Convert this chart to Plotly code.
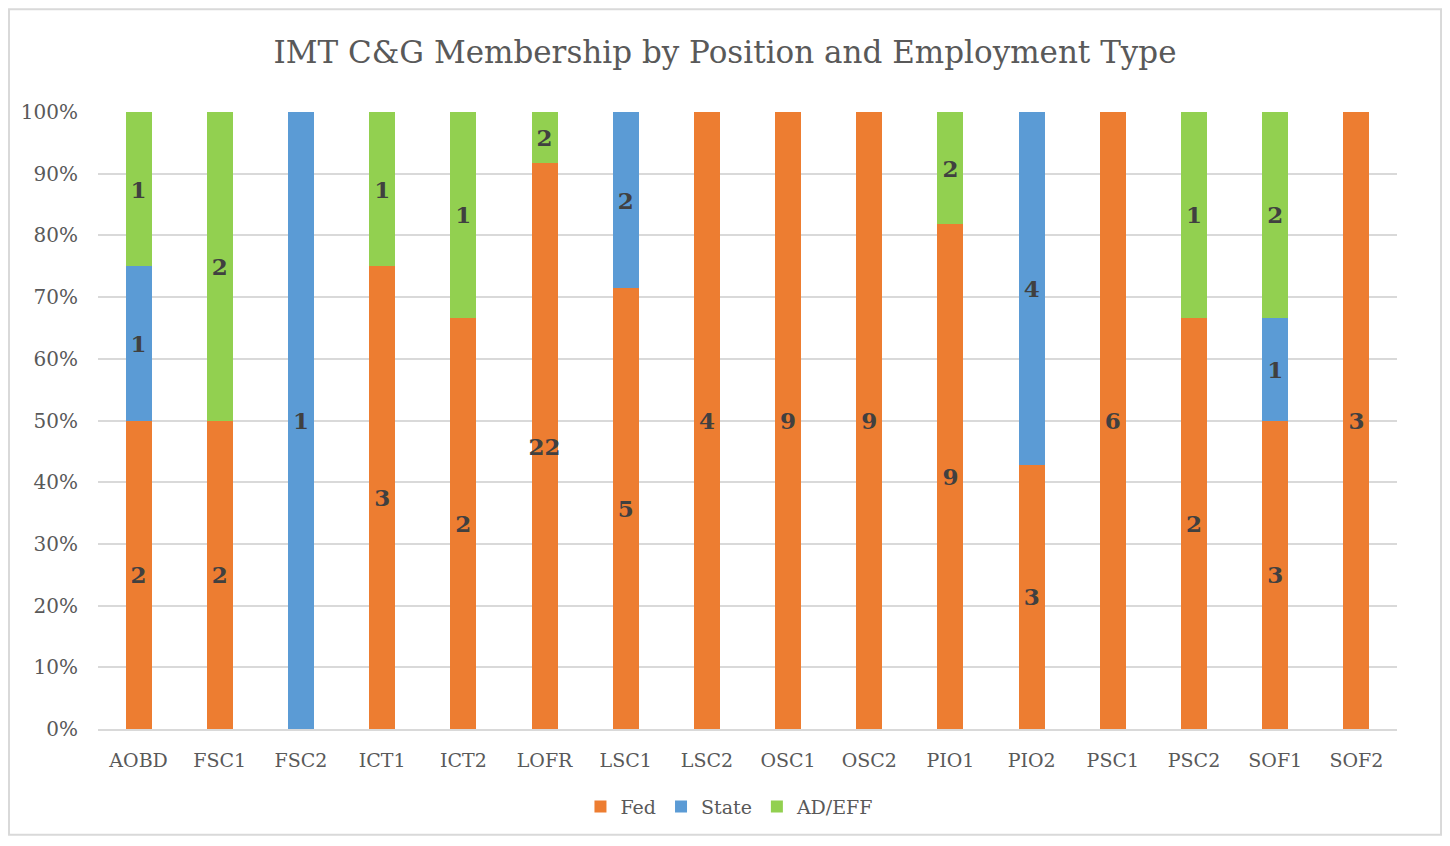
import plotly.graph_objects as go

categories = ["AOBD", "FSC1", "FSC2", "ICT1", "ICT2", "LOFR", "LSC1", "LSC2",
              "OSC1", "OSC2", "PIO1", "PIO2", "PSC1", "PSC2", "SOF1", "SOF2"]
fed =   [2, 2, 0, 3, 2, 22, 5, 4, 9, 9, 9, 3, 6, 2, 3, 3]
state = [1, 0, 1, 0, 0, 0, 2, 0, 0, 0, 0, 4, 0, 0, 1, 0]
adeff = [1, 2, 0, 1, 1, 2, 0, 0, 0, 0, 2, 0, 0, 1, 2, 0]

series = [("Fed", fed, "#ED7D31"), ("State", state, "#5B9BD5"), ("AD/EFF", adeff, "#92D050")]
FONT = "DejaVu Serif"

fig = go.Figure()
for name, vals, col in series:
    fig.add_trace(go.Bar(
        x=categories, y=vals, name=name, marker_color=col, marker_line_width=0,
        text=[str(v) if v else "" for v in vals], textposition="inside",
        insidetextanchor="middle", textangle=0, constraintext="none",
        textfont=dict(family=FONT, size=23, color="#404040", weight="bold"),
        hoverinfo="skip",
    ))

fig.update_layout(
    barmode="stack", barnorm="percent", bargap=0.68,
    width=1434, height=830,
    margin=dict(l=90, r=45, t=104, b=107),
    paper_bgcolor="white", plot_bgcolor="white",
    font=dict(family=FONT, color="#595959"),
    title=dict(text="IMT C&G Membership by Position and Employment Type",
               x=0.5, xanchor="center", y=0.947, yanchor="middle",
               font=dict(family=FONT, size=31, color="#595959")),
    legend=dict(orientation="h", x=0.4865, xanchor="center", y=-0.126, yanchor="middle",
                font=dict(family=FONT, size=19, color="#595959"), traceorder="normal",
                itemwidth=30),
    showlegend=True,
)
fig.update_yaxes(range=[0, 100], dtick=10, ticksuffix="%", showgrid=True,
                 gridcolor="#D9D9D9", gridwidth=2, zeroline=False,
                 tickfont=dict(family=FONT, size=20, color="#595959"),
                 ticklabelstandoff=19, showline=False)
fig.update_xaxes(showline=True, linecolor="#D9D9D9", linewidth=2,
                 tickfont=dict(family=FONT, size=19, color="#595959"),
                 ticklabelstandoff=13)
fig.add_shape(type="rect", xref="paper", yref="paper",
              x0=-0.0685, x1=1.0339, y0=-0.1712, y1=1.1664,
              line=dict(color="#D9D9D9", width=2), layer="below")

fig.write_html("out.html")
